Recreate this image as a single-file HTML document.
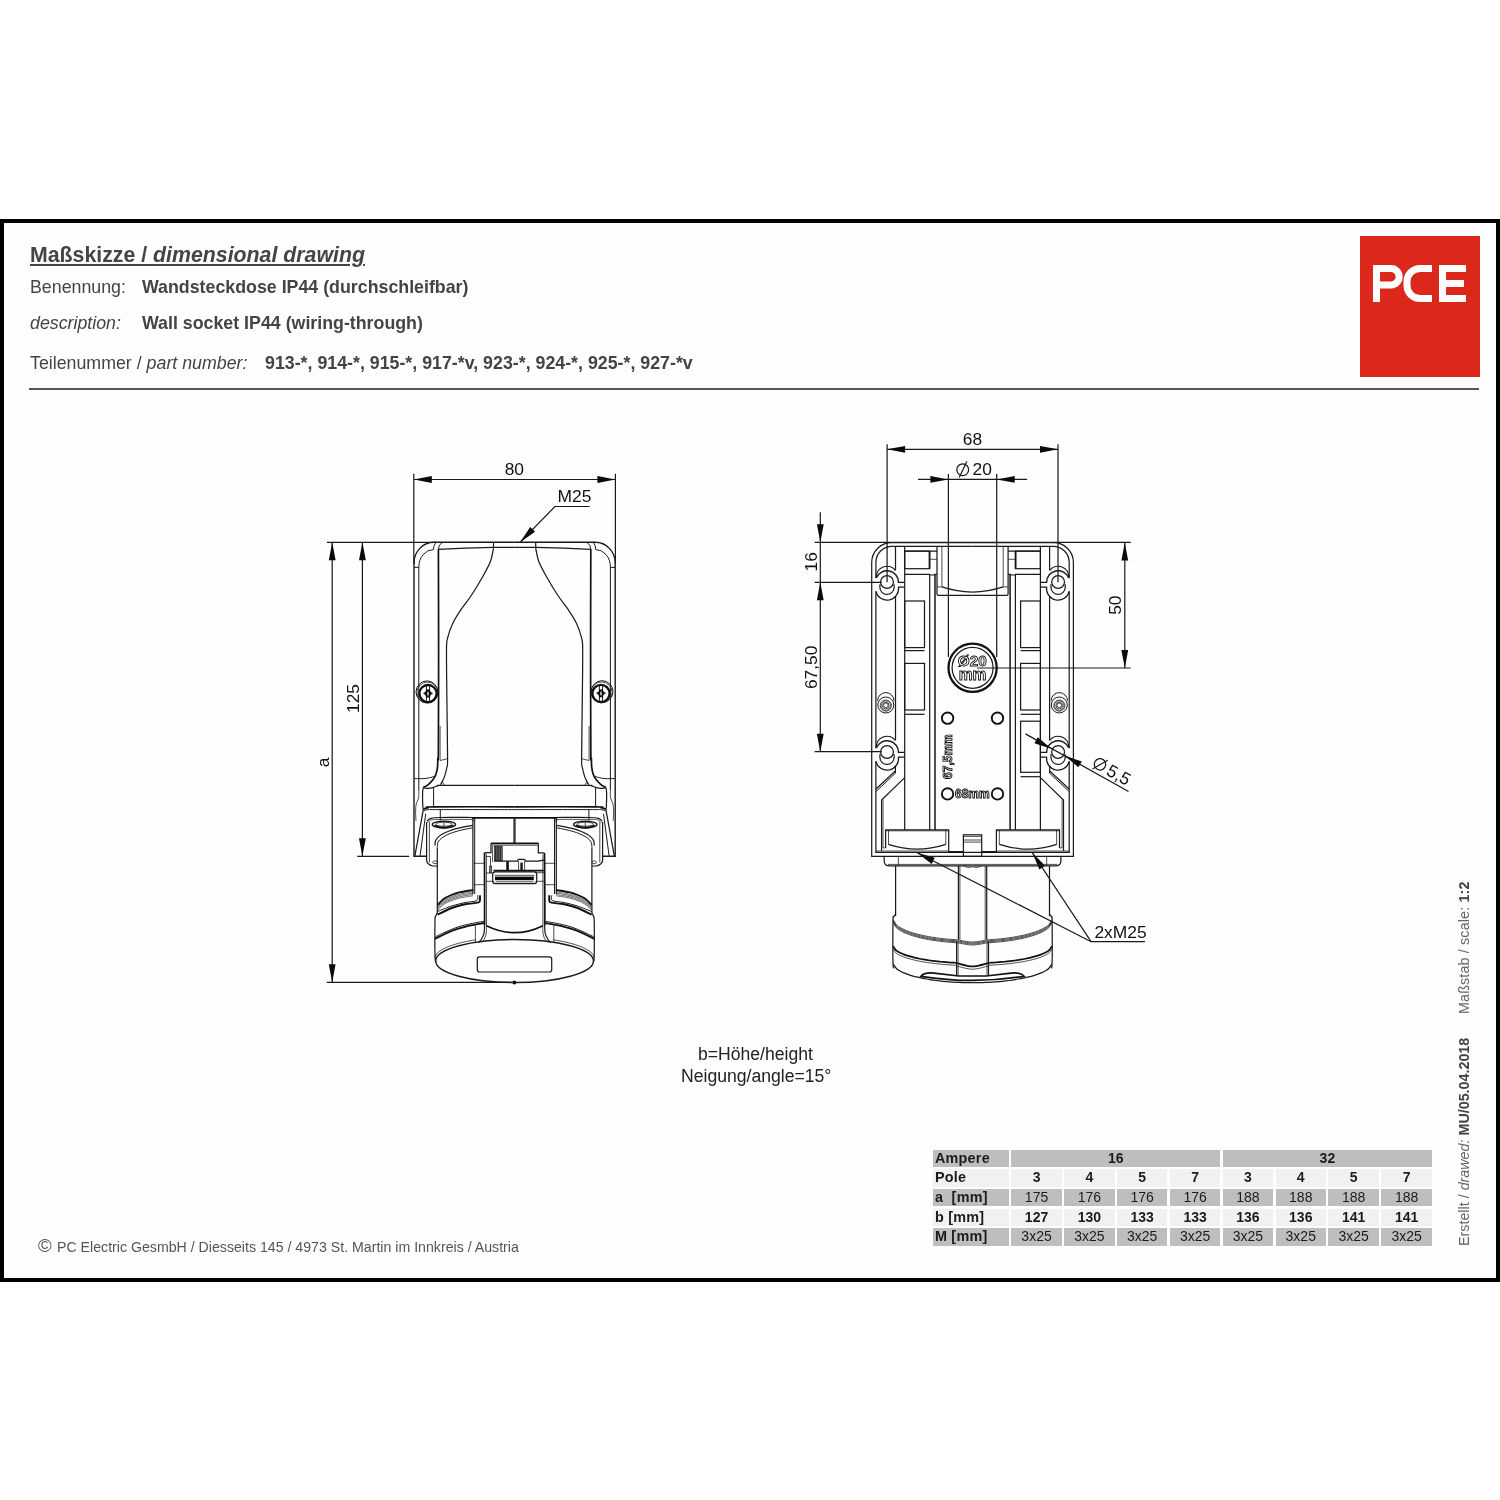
<!DOCTYPE html>
<html>
<head>
<meta charset="utf-8">
<title>Masskizze</title>
<style>
html,body{margin:0;padding:0;background:#fff;}
body{width:1500px;height:1500px;position:relative;overflow:hidden;font-family:"Liberation Sans",sans-serif;color:#444;}
.frame{position:absolute;left:0;top:219px;width:1492px;height:1055px;border:4px solid #000;background:#fefefe;}
.t{position:absolute;white-space:nowrap;line-height:1;will-change:transform;}
.b{font-weight:bold;}
.i{font-style:italic;}
.hr{position:absolute;left:29px;top:388px;width:1450px;height:1.6px;background:#555;}
.logo{position:absolute;left:1360px;top:236px;width:120px;height:141px;background:#dc281a;}
.tb,.tbg{position:absolute;left:0;top:0;}
.tb{will-change:transform;font-size:14px;color:#1c1c1c;}
.tb div,.tbg div{position:absolute;height:17.3px;line-height:16.2px;text-align:center;white-space:nowrap;}
.tbg .g{background:#bebebe;}
.tbg .l{background:#f1f1f1;}
.tb .h{text-align:left;font-weight:bold;font-size:14.4px;letter-spacing:.25px;text-indent:2.2px;}
.side{will-change:transform;position:absolute;white-space:nowrap;transform-origin:0 0;transform:rotate(-90deg);font-size:14.3px;line-height:1;color:#666;}

svg.dw{position:absolute;left:0;top:0;will-change:transform;}
svg.dw .k{fill:none;stroke:#1a1a1a;stroke-width:1.22;}
svg.dw .n{fill:none;stroke:#222;stroke-width:0.8;}
svg.dw .k1{fill:none;stroke:#1a1a1a;stroke-width:1;}
svg.dw .k2{fill:none;stroke:#1a1a1a;stroke-width:1.4;}
svg.dw .k3{fill:none;stroke:#222;stroke-width:1.6;}
svg.dw .n2{fill:none;stroke:#222;stroke-width:0.65;}
svg.dw .h{fill:none;stroke:#111;stroke-width:1.7;}
svg.dw .hh{fill:none;stroke:#111;stroke-width:1.9;}
svg.dw .c2{fill:none;stroke:#111;stroke-width:2.3;}
svg.dw .vv{fill:none;stroke:#333;stroke-width:2.3;}
svg.dw .a{fill:#0a0a0a;stroke:none;}
svg.dw .g{fill:#666;stroke:#222;stroke-width:0.6;}
svg.dw text{font-family:"Liberation Sans",sans-serif;}
svg.dw .tx{font-size:17.4px;fill:#111;}
svg.dw .ot{font-weight:bold;fill:#fff;stroke:#111;stroke-width:0.9;}
</style>
</head>
<body>
<div class="frame"></div>

<div class="t b" style="left:30px;top:245px;font-size:21.3px;text-decoration:underline;text-decoration-thickness:1.8px;text-underline-offset:2.4px;">Maßskizze / <span class="i">dimensional drawing</span></div>
<div class="t" style="left:30px;top:279px;font-size:17.8px;">Benennung:</div>
<div class="t b" style="left:142px;top:279px;font-size:17.8px;">Wandsteckdose IP44 (durchschleifbar)</div>
<div class="t i" style="left:30px;top:315px;font-size:17.8px;">description:</div>
<div class="t b" style="left:142px;top:315px;font-size:17.8px;">Wall socket IP44 (wiring-through)</div>
<div class="t" style="left:30px;top:355px;font-size:17.8px;">Teilenummer / <span class="i">part number:</span></div>
<div class="t b" style="left:265px;top:355px;font-size:17.8px;">913-*, 914-*, 915-*, 917-*v, 923-*, 924-*, 925-*, 927-*v</div>
<div class="hr"></div>

<div class="logo">
<svg width="120" height="141" viewBox="0 0 120 141"><g fill="none" stroke="#fff" stroke-width="7"><path d="M16.5,66 V32.5 H31 a8.2,8.2 0 0 1 0,16.4 H16.5"/><path d="M72,32.5 H60 a13,13 0 0 0 -13,13 v4 a13,13 0 0 0 13,13 H72"/><path d="M106,32.5 H82.5 V62.5 H106 M82.5,47.5 H104"/></g></svg>
</div>

<!--DRAWING-->
<svg class="dw" width="1500" height="1500" viewBox="0 0 1500 1500">
<g id="L">
<path class="k" d="M413.8,473.8L413.8,564"/>
<path class="k" d="M615.4,473.8L615.4,564"/>
<path class="k" d="M413.8,479.5L615.4,479.5"/>
<path class="a" d="M413.8,479.5L431.8,476.1L431.8,482.9Z"/>
<path class="a" d="M615.4,479.5L597.4,482.9L597.4,476.1Z"/>
<text class="tx" x="514.3" y="475" text-anchor="middle">80</text>
<path class="k" d="M589.7,506.5L554.9,506.5L520.1,542.3"/>
<path class="a" d="M520.1,542.3L530.21,527.03L535.09,531.77Z"/>
<text class="tx" x="557.6" y="502.2" text-anchor="start">M25</text>
<path class="k" d="M327,542.3L436,542.3"/>
<path class="k" d="M332.2,542.3L332.2,982.3"/>
<path class="a" d="M332.2,542.3L335.6,560.3L328.8,560.3Z"/>
<path class="a" d="M332.2,982.3L328.8,964.3L335.6,964.3Z"/>
<path class="k" d="M362.4,542.3L362.4,856.3"/>
<path class="a" d="M362.4,542.3L365.8,560.3L359,560.3Z"/>
<path class="a" d="M362.4,856.3L359,838.3L365.8,838.3Z"/>
<path class="k" d="M357.2,856.3L409.2,856.3"/>
<path class="k" d="M326.8,982.3L514.4,982.3"/>
<circle class="a" cx="514.4" cy="982.5" r="1.9"/>
<text class="tx" x="358.8" y="698.5" text-anchor="middle" transform="rotate(-90 358.8 698.5)">125</text>
<text class="tx" x="329" y="762.4" text-anchor="middle" transform="rotate(-90 329 762.4)">a</text>
<path class="k2" d="M514.6,542.3H434A20,20.6 0 0 0 414,563V856.3H426.6"/>
<path class="k1" d="M433.4,549.6A14.6,17.4 0 0 0 418.8,567V790"/>
<path class="k1" d="M414,567.4L418.8,567.4"/>
<path class="k1" d="M435.8,542.5Q433.4,545.6 433.4,549.6"/>
<path class="k1" d="M442.2,542.6Q438.4,544.6 438.4,549.2"/>
<path class="k" d="M438.4,549.3Q465,548 493.5,547.4H514.6"/>
<path class="k" d="M493.5,542.3L493.5,548.2"/>
<path class="k" d="M493.5,548.2C493,550.37 492.28,556.48 490.5,561.2C488.72,565.92 485.95,570.87 482.8,576.5C479.65,582.13 475.18,589.55 471.6,595C468.02,600.45 464.42,604.53 461.3,609.2C458.18,613.87 455.2,618.15 452.9,623C450.6,627.85 448.57,633.7 447.5,638.3C446.43,642.9 446.6,640.32 446.5,650.6C446.4,660.88 446.72,681.98 446.9,700C447.08,718.02 447.63,747.37 447.6,758.7C447.57,770.03 447.2,765.05 446.7,768C446.2,770.95 445.38,774.07 444.6,776.4C443.82,778.73 442.67,780.63 442,782C441.33,783.37 440.83,784.17 440.6,784.6"/>
<path class="h" d="M438.4,549.2C438.43,566 438.6,616.53 438.6,650C438.6,683.47 438.53,731.88 438.4,750C438.27,768.12 437.95,755.85 437.8,758.7C437.65,761.55 437.82,764.47 437.5,767.1C437.18,769.73 436.7,772.33 435.9,774.5C435.1,776.67 434.02,778.38 432.7,780.1C431.38,781.82 429.57,783.55 428,784.8C426.43,786.05 424.08,787.13 423.3,787.6"/>
<path class="n" d="M440.1,726L440.1,760.5"/>
<path class="n" d="M440.1,760.5L447.6,758.7"/>
<path class="n" d="M440.6,784.6L442.5,782L444.4,785.3"/>
<path class="k1" d="M414.6,778.6C416.17,778.6 421.27,778.8 424,778.6C426.73,778.4 429.23,777.83 431,777.4C432.77,776.97 434,776.23 434.6,776"/>
<path class="k" d="M514.6,785.3C502.9,785.3 457.08,785.25 444.4,785.3C431.72,785.35 440.3,785.25 438.5,785.6C436.7,785.95 435.35,786.93 433.6,787.4C431.85,787.87 429.72,788.37 428,788.4C426.28,788.43 424.08,787.73 423.3,787.6"/>
<path class="k" d="M423.3,787.6C423.18,788.42 422.68,789.43 422.6,792.5C422.52,795.57 422.68,803.15 422.8,806C422.92,808.85 423.22,809 423.3,809.6"/>
<path class="k1" d="M433.6,787.4V807.2"/>
<path class="h" d="M423.3,809.2C424.08,808.95 426.13,808.1 428,807.7C429.87,807.3 420.07,806.95 434.5,806.8C448.93,806.65 501.25,806.8 514.6,806.8"/>
<path class="k1" d="M423.8,811C424.5,810.78 425.28,809.93 428,809.7C430.72,809.47 425.67,809.62 440.1,809.6C454.53,809.58 502.18,809.6 514.6,809.6"/>
<path class="k" d="M427,821.2C427.63,820.73 428.62,819.02 430.8,818.4C432.98,817.78 433.1,817.65 440.1,817.5C447.1,817.35 467.35,817.5 472.8,817.5"/>
<path class="n" d="M428,822.6C428.62,822.13 429.53,820.33 431.7,819.8C433.87,819.27 434.28,819.47 441,819.4C447.72,819.33 466.83,819.4 472,819.4"/>
<path class="k1" d="M440.3,809.6L440.3,820.3"/>
<path class="k" d="M426.6,822V860.4Q427.2,864.6 432.7,866H437.3"/>
<path class="n" d="M429.4,822L429.4,862.5"/>
<path class="k" d="M423.3,809.6L414.9,855.8"/>
<path class="k1" d="M425.7,813.8L420.1,855.8"/>
<path class="n" d="M418.8,790C418.77,791.33 419.03,795.67 418.6,798C418.17,800.33 416.7,801.67 416.2,804C415.7,806.33 415.63,809.17 415.6,812C415.57,814.83 415.93,819.5 416,821"/>
<ellipse class="k2" cx="443.9" cy="824.5" rx="11.6" ry="3.3"/>
<ellipse class="n" cx="443.9" cy="824.2" rx="8.3" ry="2"/>
<path class="n" d="M443.9,822.4L443.9,827.6"/>
<path class="hh" d="M434.5,825.6Q443.9,829.8 453.3,825.6"/>
<path class="k" d="M435,845.5C435.08,844.72 435,842.15 435.5,840.8C436,839.45 436.92,838.48 438,837.4C439.08,836.32 440.25,835.33 442,834.3C443.75,833.27 446.17,832.13 448.5,831.2C450.83,830.27 453.42,829.43 456,828.7C458.58,827.97 461.2,827.35 464,826.8C466.8,826.25 471.33,825.63 472.8,825.4"/>
<path class="k1" d="M437.3,847.4C437.38,846.62 437.35,844 437.8,842.7C438.25,841.4 438.98,840.62 440,839.6C441.02,838.58 442.32,837.57 443.9,836.6C445.48,835.63 447.48,834.65 449.5,833.8C451.52,832.95 453.58,832.22 456,831.5C458.42,830.78 461.2,830.12 464,829.5C466.8,828.88 471.33,828.08 472.8,827.8"/>
<path class="k" d="M437.3,847.4L437.3,913"/>
<ellipse class="n" cx="435" cy="862.3" rx="2.3" ry="1.4"/>
<path class="k" d="M472.9,818L472.9,894"/>
<path class="k1" d="M474.7,818L474.7,894"/>
<path class="n" d="M471.7,819.8L473.3,818.2L474.9,819.8L473.3,821.4Z"/>
<path class="n" d="M473.7,863.3L484.3,863.3"/>
<path class="n" d="M473.7,884.7L484,884.7"/>
<path class="hh" d="M437.5,904.9C438.75,903.75 441.53,900.03 445,898C448.47,895.97 453.58,894.03 458.3,892.7C463.02,891.37 470.8,890.45 473.3,890"/>
<path class="n2" d="M437.5,906.4C438.75,905.28 441.53,901.68 445,899.7C448.47,897.72 453.63,895.8 458.3,894.5C462.97,893.2 470.55,892.33 473,891.9"/>
<path class="n2" d="M437.5,907.7C438.75,906.58 441.53,902.98 445,901C448.47,899.02 453.63,897.1 458.3,895.8C462.97,894.5 470.55,893.63 473,893.2"/>
<path class="n2" d="M437.5,909C438.75,907.88 441.53,904.28 445,902.3C448.47,900.32 453.63,898.4 458.3,897.1C462.97,895.8 470.55,894.93 473,894.5"/>
<path class="n2" d="M437.5,910.3C438.75,909.18 441.53,905.58 445,903.6C448.47,901.62 453.63,899.7 458.3,898.4C462.97,897.1 470.55,896.23 473,895.8"/>
<path class="k1" d="M437.6,911.5C439.95,910.58 447.13,907.48 451.7,906C456.27,904.52 460.78,903.52 465,902.6C469.22,901.68 474.93,901.72 477,900.5C479.07,899.28 477.33,896.17 477.4,895.3"/>
<path class="hh" d="M437.5,914.7C439.87,913.58 447.12,909.73 451.7,908C456.28,906.27 460.67,905.18 465,904.3C469.33,903.42 475.22,903.3 477.7,902.7C480.18,902.1 479.53,901.93 479.9,900.7C480.27,899.47 479.9,896.2 479.9,895.3"/>
<path class="k" d="M437.3,913C437.02,913.58 435.98,915.22 435.6,916.5C435.22,917.78 435.1,914.12 435,920.7C434.9,927.28 434.87,949.12 435,956C435.13,962.88 435.67,961 435.8,962"/>
<path class="k1" d="M435.5,936.7C438.2,935.47 446.78,931.25 451.7,929.3C456.62,927.35 459.62,926.35 465,925C470.38,923.65 480.83,921.83 484,921.2"/>
<path class="hh" d="M435,938.8C437.78,937.47 446.7,932.8 451.7,930.8C456.7,928.8 459.62,928.1 465,926.8C470.38,925.5 480.83,923.63 484,923"/>
<path class="n" d="M475.4,925.5L475.4,942.7"/>
<path class="k" d="M484.6,925.7C484.5,926.97 484.52,931.08 484,933.3C483.48,935.52 482.42,937.45 481.5,939C480.58,940.55 479,942 478.5,942.6"/>
<path class="n" d="M486.5,925.7C486.43,927.08 486.52,931.7 486.1,934C485.68,936.3 484.77,938.1 484,939.5C483.23,940.9 481.92,941.92 481.5,942.4"/>
<path class="n" d="M434.7,957.72C434.99,957.13 435.85,955.08 436.42,954.2C436.99,953.31 437.57,952.94 438.14,952.41C438.72,951.89 439.29,951.47 439.86,951.06C440.44,950.65 441.01,950.28 441.58,949.93C442.16,949.58 442.73,949.26 443.3,948.96C443.88,948.65 444.45,948.36 445.02,948.09C445.6,947.81 446.17,947.56 446.75,947.31C447.32,947.06 447.89,946.82 448.47,946.59C449.04,946.36 449.61,946.14 450.19,945.93C450.76,945.72 451.33,945.52 451.91,945.32C452.48,945.12 453.06,944.93 453.63,944.75C454.2,944.57 454.78,944.39 455.35,944.22C455.92,944.05 456.5,943.88 457.07,943.72C457.64,943.56 458.22,943.4 458.79,943.25C459.37,943.1 459.94,942.95 460.51,942.81C461.09,942.67 461.66,942.53 462.23,942.4C462.81,942.26 463.38,942.13 463.95,942C464.53,941.87 465.1,941.75 465.68,941.63C466.25,941.51 466.82,941.39 467.4,941.28C467.97,941.17 468.54,941.06 469.12,940.95C469.69,940.84 470.26,940.74 470.84,940.63C471.41,940.53 471.98,940.43 472.56,940.34C473.13,940.24 473.71,940.15 474.28,940.06C474.85,939.97 475.71,939.84 476,939.79"/>
<g transform="translate(1029.2,0) scale(-1,1)">
<path class="k2" d="M514.6,542.3H434A20,20.6 0 0 0 414,563V856.3H426.6"/>
<path class="k1" d="M433.4,549.6A14.6,17.4 0 0 0 418.8,567V790"/>
<path class="k1" d="M414,567.4L418.8,567.4"/>
<path class="k1" d="M435.8,542.5Q433.4,545.6 433.4,549.6"/>
<path class="k1" d="M442.2,542.6Q438.4,544.6 438.4,549.2"/>
<path class="k" d="M438.4,549.3Q465,548 493.5,547.4H514.6"/>
<path class="k" d="M493.5,542.3L493.5,548.2"/>
<path class="k" d="M493.5,548.2C493,550.37 492.28,556.48 490.5,561.2C488.72,565.92 485.95,570.87 482.8,576.5C479.65,582.13 475.18,589.55 471.6,595C468.02,600.45 464.42,604.53 461.3,609.2C458.18,613.87 455.2,618.15 452.9,623C450.6,627.85 448.57,633.7 447.5,638.3C446.43,642.9 446.6,640.32 446.5,650.6C446.4,660.88 446.72,681.98 446.9,700C447.08,718.02 447.63,747.37 447.6,758.7C447.57,770.03 447.2,765.05 446.7,768C446.2,770.95 445.38,774.07 444.6,776.4C443.82,778.73 442.67,780.63 442,782C441.33,783.37 440.83,784.17 440.6,784.6"/>
<path class="h" d="M438.4,549.2C438.43,566 438.6,616.53 438.6,650C438.6,683.47 438.53,731.88 438.4,750C438.27,768.12 437.95,755.85 437.8,758.7C437.65,761.55 437.82,764.47 437.5,767.1C437.18,769.73 436.7,772.33 435.9,774.5C435.1,776.67 434.02,778.38 432.7,780.1C431.38,781.82 429.57,783.55 428,784.8C426.43,786.05 424.08,787.13 423.3,787.6"/>
<path class="n" d="M440.1,726L440.1,760.5"/>
<path class="n" d="M440.1,760.5L447.6,758.7"/>
<path class="n" d="M440.6,784.6L442.5,782L444.4,785.3"/>
<path class="k1" d="M414.6,778.6C416.17,778.6 421.27,778.8 424,778.6C426.73,778.4 429.23,777.83 431,777.4C432.77,776.97 434,776.23 434.6,776"/>
<path class="k" d="M514.6,785.3C502.9,785.3 457.08,785.25 444.4,785.3C431.72,785.35 440.3,785.25 438.5,785.6C436.7,785.95 435.35,786.93 433.6,787.4C431.85,787.87 429.72,788.37 428,788.4C426.28,788.43 424.08,787.73 423.3,787.6"/>
<path class="k" d="M423.3,787.6C423.18,788.42 422.68,789.43 422.6,792.5C422.52,795.57 422.68,803.15 422.8,806C422.92,808.85 423.22,809 423.3,809.6"/>
<path class="k1" d="M433.6,787.4V807.2"/>
<path class="h" d="M423.3,809.2C424.08,808.95 426.13,808.1 428,807.7C429.87,807.3 420.07,806.95 434.5,806.8C448.93,806.65 501.25,806.8 514.6,806.8"/>
<path class="k1" d="M423.8,811C424.5,810.78 425.28,809.93 428,809.7C430.72,809.47 425.67,809.62 440.1,809.6C454.53,809.58 502.18,809.6 514.6,809.6"/>
<path class="k" d="M427,821.2C427.63,820.73 428.62,819.02 430.8,818.4C432.98,817.78 433.1,817.65 440.1,817.5C447.1,817.35 467.35,817.5 472.8,817.5"/>
<path class="n" d="M428,822.6C428.62,822.13 429.53,820.33 431.7,819.8C433.87,819.27 434.28,819.47 441,819.4C447.72,819.33 466.83,819.4 472,819.4"/>
<path class="k1" d="M440.3,809.6L440.3,820.3"/>
<path class="k" d="M426.6,822V860.4Q427.2,864.6 432.7,866H437.3"/>
<path class="n" d="M429.4,822L429.4,862.5"/>
<path class="k" d="M423.3,809.6L414.9,855.8"/>
<path class="k1" d="M425.7,813.8L420.1,855.8"/>
<path class="n" d="M418.8,790C418.77,791.33 419.03,795.67 418.6,798C418.17,800.33 416.7,801.67 416.2,804C415.7,806.33 415.63,809.17 415.6,812C415.57,814.83 415.93,819.5 416,821"/>
<ellipse class="k2" cx="443.9" cy="824.5" rx="11.6" ry="3.3"/>
<ellipse class="n" cx="443.9" cy="824.2" rx="8.3" ry="2"/>
<path class="n" d="M443.9,822.4L443.9,827.6"/>
<path class="hh" d="M434.5,825.6Q443.9,829.8 453.3,825.6"/>
<path class="k" d="M435,845.5C435.08,844.72 435,842.15 435.5,840.8C436,839.45 436.92,838.48 438,837.4C439.08,836.32 440.25,835.33 442,834.3C443.75,833.27 446.17,832.13 448.5,831.2C450.83,830.27 453.42,829.43 456,828.7C458.58,827.97 461.2,827.35 464,826.8C466.8,826.25 471.33,825.63 472.8,825.4"/>
<path class="k1" d="M437.3,847.4C437.38,846.62 437.35,844 437.8,842.7C438.25,841.4 438.98,840.62 440,839.6C441.02,838.58 442.32,837.57 443.9,836.6C445.48,835.63 447.48,834.65 449.5,833.8C451.52,832.95 453.58,832.22 456,831.5C458.42,830.78 461.2,830.12 464,829.5C466.8,828.88 471.33,828.08 472.8,827.8"/>
<path class="k" d="M437.3,847.4L437.3,913"/>
<ellipse class="n" cx="435" cy="862.3" rx="2.3" ry="1.4"/>
<path class="k" d="M472.9,818L472.9,894"/>
<path class="k1" d="M474.7,818L474.7,894"/>
<path class="n" d="M471.7,819.8L473.3,818.2L474.9,819.8L473.3,821.4Z"/>
<path class="n" d="M473.7,863.3L484.3,863.3"/>
<path class="n" d="M473.7,884.7L484,884.7"/>
<path class="hh" d="M437.5,904.9C438.75,903.75 441.53,900.03 445,898C448.47,895.97 453.58,894.03 458.3,892.7C463.02,891.37 470.8,890.45 473.3,890"/>
<path class="n2" d="M437.5,906.4C438.75,905.28 441.53,901.68 445,899.7C448.47,897.72 453.63,895.8 458.3,894.5C462.97,893.2 470.55,892.33 473,891.9"/>
<path class="n2" d="M437.5,907.7C438.75,906.58 441.53,902.98 445,901C448.47,899.02 453.63,897.1 458.3,895.8C462.97,894.5 470.55,893.63 473,893.2"/>
<path class="n2" d="M437.5,909C438.75,907.88 441.53,904.28 445,902.3C448.47,900.32 453.63,898.4 458.3,897.1C462.97,895.8 470.55,894.93 473,894.5"/>
<path class="n2" d="M437.5,910.3C438.75,909.18 441.53,905.58 445,903.6C448.47,901.62 453.63,899.7 458.3,898.4C462.97,897.1 470.55,896.23 473,895.8"/>
<path class="k1" d="M437.6,911.5C439.95,910.58 447.13,907.48 451.7,906C456.27,904.52 460.78,903.52 465,902.6C469.22,901.68 474.93,901.72 477,900.5C479.07,899.28 477.33,896.17 477.4,895.3"/>
<path class="hh" d="M437.5,914.7C439.87,913.58 447.12,909.73 451.7,908C456.28,906.27 460.67,905.18 465,904.3C469.33,903.42 475.22,903.3 477.7,902.7C480.18,902.1 479.53,901.93 479.9,900.7C480.27,899.47 479.9,896.2 479.9,895.3"/>
<path class="k" d="M437.3,913C437.02,913.58 435.98,915.22 435.6,916.5C435.22,917.78 435.1,914.12 435,920.7C434.9,927.28 434.87,949.12 435,956C435.13,962.88 435.67,961 435.8,962"/>
<path class="k1" d="M435.5,936.7C438.2,935.47 446.78,931.25 451.7,929.3C456.62,927.35 459.62,926.35 465,925C470.38,923.65 480.83,921.83 484,921.2"/>
<path class="hh" d="M435,938.8C437.78,937.47 446.7,932.8 451.7,930.8C456.7,928.8 459.62,928.1 465,926.8C470.38,925.5 480.83,923.63 484,923"/>
<path class="n" d="M475.4,925.5L475.4,942.7"/>
<path class="k" d="M484.6,925.7C484.5,926.97 484.52,931.08 484,933.3C483.48,935.52 482.42,937.45 481.5,939C480.58,940.55 479,942 478.5,942.6"/>
<path class="n" d="M486.5,925.7C486.43,927.08 486.52,931.7 486.1,934C485.68,936.3 484.77,938.1 484,939.5C483.23,940.9 481.92,941.92 481.5,942.4"/>
<path class="n" d="M434.7,957.72C434.99,957.13 435.85,955.08 436.42,954.2C436.99,953.31 437.57,952.94 438.14,952.41C438.72,951.89 439.29,951.47 439.86,951.06C440.44,950.65 441.01,950.28 441.58,949.93C442.16,949.58 442.73,949.26 443.3,948.96C443.88,948.65 444.45,948.36 445.02,948.09C445.6,947.81 446.17,947.56 446.75,947.31C447.32,947.06 447.89,946.82 448.47,946.59C449.04,946.36 449.61,946.14 450.19,945.93C450.76,945.72 451.33,945.52 451.91,945.32C452.48,945.12 453.06,944.93 453.63,944.75C454.2,944.57 454.78,944.39 455.35,944.22C455.92,944.05 456.5,943.88 457.07,943.72C457.64,943.56 458.22,943.4 458.79,943.25C459.37,943.1 459.94,942.95 460.51,942.81C461.09,942.67 461.66,942.53 462.23,942.4C462.81,942.26 463.38,942.13 463.95,942C464.53,941.87 465.1,941.75 465.68,941.63C466.25,941.51 466.82,941.39 467.4,941.28C467.97,941.17 468.54,941.06 469.12,940.95C469.69,940.84 470.26,940.74 470.84,940.63C471.41,940.53 471.98,940.43 472.56,940.34C473.13,940.24 473.71,940.15 474.28,940.06C474.85,939.97 475.71,939.84 476,939.79"/>
</g>
<path class="h" d="M472,817.8H557.2"/>
<path class="vv" d="M514.5,818L514.5,843"/>
<circle class="k1" cx="426.9" cy="691.8" r="10.9"/>
<circle class="n" cx="427.4" cy="692.6" r="10.5"/>
<circle class="c2" cx="428" cy="693.6" r="8.6"/>
<path class="k1" d="M426.4,686L426.4,701.2"/>
<path class="k1" d="M429.6,686L429.6,701.2"/>
<path class="a" d="M423,693.2Q426,692.4 426.5,689.6L429.5,689.6Q430,692.4 433,693.2Q430,694.4 429.4,697.4L426.6,697.4Q426,694.4 423,693.2Z"/>
<path fill="#fff" d="M428,690.8L428.8,693.6L428,696.8L427.2,693.6Z"/>
<circle class="k1" cx="602.1" cy="691.6" r="10.9"/>
<circle class="n" cx="601.6" cy="692.4" r="10.5"/>
<circle class="c2" cx="601" cy="693.4" r="8.6"/>
<path class="k1" d="M599.4,685.8L599.4,701"/>
<path class="k1" d="M602.6,685.8L602.6,701"/>
<path class="a" d="M596,693Q599,692.2 599.5,689.4L602.5,689.4Q603,692.2 606,693Q603,694.2 602.4,697.2L599.6,697.2Q599,694.2 596,693Z"/>
<path fill="#fff" d="M601,690.6L601.8,693.4L601,696.6L600.2,693.4Z"/>
<path class="h" d="M491,843.3H538.3"/>
<path class="n" d="M491.6,845.2H537.8"/>
<path class="k" d="M491,843.3V852.7H484.4"/>
<path class="k" d="M538.3,843.3V852.9H544.4"/>
<path class="h" d="M484.5,852.7C484.52,859.58 484.58,881.83 484.6,894C484.62,906.17 484.6,920.42 484.6,925.7"/>
<path class="h" d="M544.5,852.9C544.55,859.75 544.75,881.87 544.8,894C544.85,906.13 544.8,920.42 544.8,925.7"/>
<path class="n" d="M486.4,854L486.5,925.7"/>
<path class="n" d="M542.9,854.5L542.9,925.7"/>
<rect class="g" x="494.3" y="846" width="8" height="14.8" rx="0"/>
<path class="n" d="M495.5,846L495.5,860.8"/>
<path class="n" d="M497.2,846L497.2,860.8"/>
<path class="n" d="M498.9,846L498.9,860.8"/>
<path class="n" d="M500.6,846L500.6,860.8"/>
<path class="n" d="M492.6,846L492.6,862"/>
<path class="k" d="M494.3,861.2H517.7V860.5Q517.7,859.3 519,859.3H524Q525.3,859.3 525.3,860.5V861.2H538Q541,860.8 544,860.2"/>
<rect class="a" x="520.4" y="862.6" width="2.3" height="7.4" rx="0"/>
<path class="n" d="M518.6,861.2L518.6,870"/>
<path class="n" d="M524.6,861.2L524.6,870"/>
<rect class="a" x="506.3" y="861.3" width="2.5" height="8.7" rx="0"/>
<path class="h" d="M493.5,870.6H543.7"/>
<rect class="g" x="489.6" y="866" width="2.2" height="6.8" rx="0"/>
<path class="n" d="M486,856.5H490.5V866"/>
<path class="n" d="M486,873H492.7"/>
<path class="n" d="M536.7,872.7H544.3"/>
<path class="n" d="M485.7,881.3H493.7"/>
<path class="n" d="M535.6,881.3H544.3"/>
<rect class="k" x="492.7" y="871.8" width="44" height="11.9" rx="2.6"/>
<rect class="a" x="495" y="876.6" width="38.8" height="3.6" rx="0"/>
<path class="n" d="M494.6,875.3L534.6,875.3"/>
<path class="n" d="M495.6,881.8L533.6,881.8"/>
<path class="h" d="M486.5,925.7Q514.6,939.7 542.9,925.7"/>
<ellipse class="k2" cx="514.6" cy="961" rx="78.9" ry="21.5"/>
<rect class="k" x="477.3" y="956.8" width="74.4" height="15.2" rx="2.2"/>
</g>
<g id="R">
<path class="k" d="M887.1,444.3L887.1,582.3"/>
<path class="k" d="M1058,444.3L1058,582.3"/>
<path class="k" d="M887.1,449.3L1058,449.3"/>
<path class="a" d="M887.1,449.3L905.1,445.9L905.1,452.7Z"/>
<path class="a" d="M1058,449.3L1040,452.7L1040,445.9Z"/>
<text class="tx" x="972.4" y="445" text-anchor="middle">68</text>
<path class="k" d="M948.4,474L948.4,657"/>
<path class="k" d="M996.7,474L996.7,657"/>
<path class="k" d="M918,479.4L1027.1,479.4"/>
<path class="a" d="M948.4,479.4L930.4,482.8L930.4,476Z"/>
<path class="a" d="M996.7,479.4L1014.7,476L1014.7,482.8Z"/>
<circle class="k" cx="962.7" cy="469.7" r="5.9"/>
<path class="k" d="M959.2,477.4L966.8,461.4"/>
<text class="tx" x="972.6" y="475" text-anchor="start">20</text>
<path class="k" d="M814.7,542.4L1130.8,542.4"/>
<path class="k" d="M820.3,512.3L820.3,751.7"/>
<path class="a" d="M820.3,542.2L816.9,524.2L823.7,524.2Z"/>
<path class="a" d="M820.3,582.3L823.7,600.3L816.9,600.3Z"/>
<path class="a" d="M820.3,751.7L816.9,733.7L823.7,733.7Z"/>
<path class="k" d="M814.7,582.3L881.8,582.3"/>
<path class="k" d="M814.6,751.7L881.8,751.7"/>
<text class="tx" x="816.7" y="561.7" text-anchor="middle" transform="rotate(-90 816.7 561.7)">16</text>
<text class="tx" x="817" y="667.3" text-anchor="middle" transform="rotate(-90 817 667.3)">67,50</text>
<path class="k" d="M1124.8,542.4L1124.8,668"/>
<path class="a" d="M1124.8,542.4L1128.2,560.4L1121.4,560.4Z"/>
<path class="a" d="M1124.8,668L1121.4,650L1128.2,650Z"/>
<path class="k" d="M977.3,668L1130.8,668"/>
<text class="tx" x="1121.5" y="605.2" text-anchor="middle" transform="rotate(-90 1121.5 605.2)">50</text>
<path class="k" d="M1025.4,733.9L1128.5,791.5"/>
<path class="a" d="M1051.8,749L1034.43,743.19L1037.75,737.25Z"/>
<path class="a" d="M1064.4,755.6L1081.77,761.41L1078.45,767.35Z"/>
<g transform="translate(1088.6,769.2) rotate(29.2)">
<circle class="k" cx="7.6" cy="-9.8" r="5.7"/>
<path class="k" d="M3.2,-2.1L12.4,-17.1"/>
<text class="tx" x="17" y="-3.7" text-anchor="start">5,5</text>
</g>
<path class="k" d="M917.2,852.7L1091.1,941.7L1144.9,941.7"/>
<path class="k" d="M1032.3,852.7L1091.1,941.7"/>
<path class="a" d="M917.2,852.7L934.77,857.87L931.67,863.93Z"/>
<path class="a" d="M1032.3,852.7L1045.06,865.84L1039.39,869.59Z"/>
<text class="tx" x="1094.4" y="937.6" text-anchor="start">2xM25</text>
<path class="k" d="M871.7,856.4V562.5A19.8,19.8 0 0 1 891.5,542.7H1053.6A19.8,19.8 0 0 1 1073.4,562.5V856.4Z"/>
<path class="k" d="M875.4,852.4L1069.7,852.4"/>
<path class="k" d="M972.55,546.3H891.9A16,16 0 0 0 875.9,562.3V578.2"/>
<path class="k" d="M875.9,591.2L875.9,748.2"/>
<path class="k" d="M875.9,761.2L875.9,852.4"/>
<circle class="k" cx="887" cy="582" r="6.4"/>
<path class="k" d="M879.9,584.2V587.4A7.1,7.1 0 0 0 894.1,587.4V584.2"/>
<path class="k" d="M876.3,577.9A10.7,10.7 0 0 1 895.4,570.4"/>
<path class="k2" d="M876.4,577.8A11.5,11.5 0 0 1 898.5,582.4H904.5"/>
<path class="k" d="M904.5,587.2H898.5A11.5,11.5 0 0 1 875.9,591.3"/>
<circle class="k" cx="887" cy="752" r="6.4"/>
<path class="k" d="M879.9,754.2V757.4A7.1,7.1 0 0 0 894.1,757.4V754.2"/>
<path class="k" d="M876.3,747.9A10.7,10.7 0 0 1 895.4,740.4"/>
<path class="k2" d="M876.4,747.8A11.5,11.5 0 0 1 898.5,752.4H904.5"/>
<path class="k" d="M904.5,757.2H898.5A11.5,11.5 0 0 1 875.9,761.3"/>
<path class="k1" d="M877.6,700.8A8.2,8.2 0 0 1 894,700.8"/>
<circle class="k1" cx="885.8" cy="705" r="8"/>
<circle class="n" cx="885.8" cy="705.6" r="5.6"/>
<circle class="n" cx="885.8" cy="705.6" r="4.7"/>
<circle class="n" cx="885.8" cy="705.6" r="3.3"/>
<circle class="n" cx="885.8" cy="705.3" r="2.3"/>
<path class="k" d="M895.5,546.3L895.5,570.3"/>
<path class="k" d="M895.5,596L895.5,740.3"/>
<path class="k" d="M895.4,765.5L895.4,773.2"/>
<path class="k" d="M895.4,771L876,789"/>
<path class="k1" d="M895.4,773.2L876,791.5"/>
<path class="k" d="M904.7,546.3L904.7,830"/>
<path class="k" d="M904.7,777.6L881.6,800L881.6,851"/>
<path class="n" d="M883,799.5L883,847.8L885.6,848"/>
<path class="k" d="M929.7,575L929.7,830"/>
<path class="k3" d="M935,575L935,830"/>
<path class="k" d="M904.7,551.2H937"/>
<rect class="k" x="904.7" y="551.2" width="24.9" height="17.5" rx="0"/>
<path class="h" d="M929.5,551.2L929.5,568.7"/>
<path class="n" d="M930.2,559.3H937"/>
<path class="k" d="M904.7,574.3H929.7L930.2,575H934L934.6,574.3H937"/>
<path class="k" d="M937,546.3V594Q937,595.3 938.4,595.3H972.55"/>
<path class="n" d="M941.9,546.3V586.9"/>
<path class="n" d="M937,586.9H941.9"/>
<path class="k" d="M941.9,586.9Q957,591.9 972.55,592.1"/>
<rect class="k" x="904.7" y="601" width="19.8" height="46.6" rx="0"/>
<path class="k" d="M904.7,650.6L924.5,650.6"/>
<rect class="k" x="904.7" y="663.4" width="19.8" height="46.6" rx="0"/>
<path class="k" d="M904.7,714.3L924.5,714.3"/>
<circle class="hh" cx="947.6" cy="718.2" r="5.7"/>
<circle class="hh" cx="947.6" cy="793.9" r="5.7"/>
<path class="k" d="M885.6,848V829.8H948.7V852.4"/>
<path class="n" d="M885.6,830.8H948.7"/>
<path class="n" d="M888.5,830L888.5,844.5"/>
<path class="n" d="M945.8,830L945.8,844.5"/>
<path class="k" d="M888.4,844.4Q917,853.8 945.8,844.4"/>
<path class="n" d="M875.9,851H948.7"/>
<path class="hh" d="M948.7,852H963.4"/>
<path class="k" d="M884.2,856.4V861Q884.2,865.9 890,865.9H972.55"/>
<path class="n" d="M888,864.4H972.55"/>
<path class="n" d="M898.4,856.4L898.4,865.9"/>
<path class="k" d="M895.6,865.9L895.6,916"/>
<path class="k" d="M895.6,914C895.27,914.5 894.03,915.83 893.6,917C893.17,918.17 893.1,913.33 893,921C892.9,928.67 892.83,955.17 893,963C893.17,970.83 893.83,967.17 894,968"/>
<path class="k" d="M958.4,866L958.4,939.5"/>
<path class="n" d="M959.9,866L959.9,940"/>
<path class="k" d="M956.6,941L956.6,975.5"/>
<path class="n" d="M958.1,941.5L958.1,976"/>
<path class="n" d="M893.2,919.37C893.65,920.18 895.01,923.07 895.92,924.25C896.82,925.44 897.73,925.84 898.63,926.49C899.54,927.14 900.44,927.65 901.35,928.16C902.26,928.67 903.16,929.11 904.07,929.53C904.97,929.95 905.88,930.34 906.78,930.7C907.69,931.07 908.59,931.41 909.5,931.73C910.41,932.05 911.31,932.35 912.22,932.64C913.12,932.93 914.03,933.2 914.93,933.46C915.84,933.72 916.74,933.97 917.65,934.2C918.56,934.44 919.46,934.66 920.37,934.88C921.27,935.1 922.18,935.3 923.08,935.5C923.99,935.69 924.89,935.88 925.8,936.06C926.71,936.24 927.61,936.41 928.52,936.57C929.42,936.74 930.33,936.89 931.23,937.05C932.14,937.2 933.04,937.34 933.95,937.48C934.86,937.61 935.76,937.74 936.67,937.87C937.57,937.99 938.48,938.11 939.38,938.23C940.29,938.34 941.19,938.45 942.1,938.55C943.01,938.65 943.91,938.75 944.82,938.84C945.72,938.93 946.63,939.02 947.53,939.1C948.44,939.18 949.34,939.26 950.25,939.33C951.16,939.4 952.06,939.47 952.97,939.53C953.87,939.6 954.78,939.65 955.68,939.71C956.59,939.76 957.95,939.83 958.4,939.85"/>
<path class="n" d="M893.2,920.37C893.65,921.18 895.01,924.07 895.92,925.25C896.82,926.44 897.73,926.84 898.63,927.49C899.54,928.14 900.44,928.65 901.35,929.16C902.26,929.67 903.16,930.11 904.07,930.53C904.97,930.95 905.88,931.34 906.78,931.7C907.69,932.07 908.59,932.41 909.5,932.73C910.41,933.05 911.31,933.35 912.22,933.64C913.12,933.93 914.03,934.2 914.93,934.46C915.84,934.72 916.74,934.97 917.65,935.2C918.56,935.44 919.46,935.66 920.37,935.88C921.27,936.1 922.18,936.3 923.08,936.5C923.99,936.69 924.89,936.88 925.8,937.06C926.71,937.24 927.61,937.41 928.52,937.57C929.42,937.74 930.33,937.89 931.23,938.05C932.14,938.2 933.04,938.34 933.95,938.48C934.86,938.61 935.76,938.74 936.67,938.87C937.57,938.99 938.48,939.11 939.38,939.23C940.29,939.34 941.19,939.45 942.1,939.55C943.01,939.65 943.91,939.75 944.82,939.84C945.72,939.93 946.63,940.02 947.53,940.1C948.44,940.18 949.34,940.26 950.25,940.33C951.16,940.4 952.06,940.47 952.97,940.53C953.87,940.6 954.78,940.65 955.68,940.71C956.59,940.76 957.95,940.83 958.4,940.85"/>
<path class="n" d="M893.2,921.37C893.65,922.18 895.01,925.07 895.92,926.25C896.82,927.44 897.73,927.84 898.63,928.49C899.54,929.14 900.44,929.65 901.35,930.16C902.26,930.67 903.16,931.11 904.07,931.53C904.97,931.95 905.88,932.34 906.78,932.7C907.69,933.07 908.59,933.41 909.5,933.73C910.41,934.05 911.31,934.35 912.22,934.64C913.12,934.93 914.03,935.2 914.93,935.46C915.84,935.72 916.74,935.97 917.65,936.2C918.56,936.44 919.46,936.66 920.37,936.88C921.27,937.1 922.18,937.3 923.08,937.5C923.99,937.69 924.89,937.88 925.8,938.06C926.71,938.24 927.61,938.41 928.52,938.57C929.42,938.74 930.33,938.89 931.23,939.05C932.14,939.2 933.04,939.34 933.95,939.48C934.86,939.61 935.76,939.74 936.67,939.87C937.57,939.99 938.48,940.11 939.38,940.23C940.29,940.34 941.19,940.45 942.1,940.55C943.01,940.65 943.91,940.75 944.82,940.84C945.72,940.93 946.63,941.02 947.53,941.1C948.44,941.18 949.34,941.26 950.25,941.33C951.16,941.4 952.06,941.47 952.97,941.53C953.87,941.6 954.78,941.65 955.68,941.71C956.59,941.76 957.95,941.83 958.4,941.85"/>
<path class="n" d="M893.2,922.37C893.65,923.18 895.01,926.07 895.92,927.25C896.82,928.44 897.73,928.84 898.63,929.49C899.54,930.14 900.44,930.65 901.35,931.16C902.26,931.67 903.16,932.11 904.07,932.53C904.97,932.95 905.88,933.34 906.78,933.7C907.69,934.07 908.59,934.41 909.5,934.73C910.41,935.05 911.31,935.35 912.22,935.64C913.12,935.93 914.03,936.2 914.93,936.46C915.84,936.72 916.74,936.97 917.65,937.2C918.56,937.44 919.46,937.66 920.37,937.88C921.27,938.1 922.18,938.3 923.08,938.5C923.99,938.69 924.89,938.88 925.8,939.06C926.71,939.24 927.61,939.41 928.52,939.57C929.42,939.74 930.33,939.89 931.23,940.05C932.14,940.2 933.04,940.34 933.95,940.48C934.86,940.61 935.76,940.74 936.67,940.87C937.57,940.99 938.48,941.11 939.38,941.23C940.29,941.34 941.19,941.45 942.1,941.55C943.01,941.65 943.91,941.75 944.82,941.84C945.72,941.93 946.63,942.02 947.53,942.1C948.44,942.18 949.34,942.26 950.25,942.33C951.16,942.4 952.06,942.47 952.97,942.53C953.87,942.6 954.78,942.65 955.68,942.71C956.59,942.76 957.95,942.83 958.4,942.85"/>
<path class="h" d="M893.2,946.22C893.64,946.88 894.96,949.19 895.84,950.14C896.72,951.1 897.6,951.42 898.48,951.94C899.36,952.47 900.24,952.88 901.12,953.29C902.01,953.7 902.89,954.05 903.77,954.39C904.65,954.73 905.53,955.04 906.41,955.34C907.29,955.63 908.17,955.9 909.05,956.17C909.93,956.43 910.81,956.67 911.69,956.9C912.57,957.14 913.45,957.36 914.33,957.57C915.21,957.78 916.09,957.98 916.98,958.17C917.86,958.36 918.74,958.54 919.62,958.72C920.5,958.89 921.38,959.06 922.26,959.22C923.14,959.38 924.02,959.53 924.9,959.68C925.78,959.82 926.66,959.96 927.54,960.1C928.42,960.23 929.3,960.36 930.18,960.49C931.06,960.61 931.94,960.73 932.83,960.84C933.71,960.95 934.59,961.06 935.47,961.16C936.35,961.27 937.23,961.36 938.11,961.46C938.99,961.55 939.87,961.64 940.75,961.73C941.63,961.81 942.51,961.89 943.39,961.97C944.27,962.05 945.15,962.12 946.03,962.19C946.91,962.26 947.79,962.32 948.68,962.39C949.56,962.45 950.44,962.5 951.32,962.56C952.2,962.61 953.08,962.66 953.96,962.71C954.84,962.76 956.16,962.82 956.6,962.84"/>
<path class="n" d="M893.2,949.01C893.64,949.65 894.96,951.91 895.84,952.84C896.72,953.77 897.6,954.09 898.48,954.6C899.36,955.11 900.24,955.51 901.12,955.91C902.01,956.31 902.89,956.66 903.77,956.99C904.65,957.33 905.53,957.63 906.41,957.92C907.29,958.2 908.17,958.47 909.05,958.73C909.93,958.98 910.81,959.22 911.69,959.45C912.57,959.68 913.45,959.89 914.33,960.1C915.21,960.3 916.09,960.5 916.98,960.68C917.86,960.87 918.74,961.05 919.62,961.22C920.5,961.39 921.38,961.55 922.26,961.71C923.14,961.87 924.02,962.02 924.9,962.16C925.78,962.3 926.66,962.44 927.54,962.57C928.42,962.7 929.3,962.83 930.18,962.95C931.06,963.07 931.94,963.18 932.83,963.29C933.71,963.4 934.59,963.51 935.47,963.61C936.35,963.71 937.23,963.81 938.11,963.9C938.99,963.99 939.87,964.08 940.75,964.16C941.63,964.24 942.51,964.32 943.39,964.4C944.27,964.47 945.15,964.54 946.03,964.61C946.91,964.68 947.79,964.74 948.68,964.8C949.56,964.86 950.44,964.92 951.32,964.97C952.2,965.03 953.08,965.08 953.96,965.12C954.84,965.17 956.16,965.23 956.6,965.25"/>
<path class="k" d="M893.3,964.21C893.85,964.97 895.5,967.62 896.6,968.75C897.7,969.87 898.8,970.31 899.9,970.95C901,971.59 902.11,972.1 903.21,972.6C904.31,973.09 905.41,973.52 906.51,973.94C907.61,974.35 908.71,974.72 909.81,975.07C910.91,975.43 912.01,975.75 913.11,976.06C914.21,976.37 915.31,976.66 916.41,976.93C917.52,977.21 918.62,977.46 919.72,977.71C920.82,977.95 921.92,978.18 923.02,978.4C924.12,978.62 925.22,978.82 926.32,979.02C927.42,979.21 928.52,979.4 929.62,979.57C930.72,979.75 931.82,979.91 932.92,980.07C934.03,980.23 935.13,980.38 936.23,980.52C937.33,980.66 938.43,980.79 939.53,980.92C940.63,981.04 941.73,981.16 942.83,981.27C943.93,981.38 945.03,981.48 946.13,981.58C947.23,981.67 948.33,981.76 949.44,981.85C950.54,981.93 951.64,982.01 952.74,982.08C953.84,982.15 954.94,982.21 956.04,982.27C957.14,982.33 958.24,982.38 959.34,982.43C960.44,982.47 961.54,982.51 962.64,982.55C963.74,982.58 964.85,982.61 965.95,982.63C967.05,982.65 968.15,982.67 969.25,982.68C970.35,982.69 972,982.7 972.55,982.7"/>
<g transform="translate(1945.1,0) scale(-1,1)">
<path class="k" d="M972.55,546.3H891.9A16,16 0 0 0 875.9,562.3V578.2"/>
<path class="k" d="M875.9,591.2L875.9,748.2"/>
<path class="k" d="M875.9,761.2L875.9,852.4"/>
<circle class="k" cx="887" cy="582" r="6.4"/>
<path class="k" d="M879.9,584.2V587.4A7.1,7.1 0 0 0 894.1,587.4V584.2"/>
<path class="k" d="M876.3,577.9A10.7,10.7 0 0 1 895.4,570.4"/>
<path class="k2" d="M876.4,577.8A11.5,11.5 0 0 1 898.5,582.4H904.5"/>
<path class="k" d="M904.5,587.2H898.5A11.5,11.5 0 0 1 875.9,591.3"/>
<circle class="k" cx="887" cy="752" r="6.4"/>
<path class="k" d="M879.9,754.2V757.4A7.1,7.1 0 0 0 894.1,757.4V754.2"/>
<path class="k" d="M876.3,747.9A10.7,10.7 0 0 1 895.4,740.4"/>
<path class="k2" d="M876.4,747.8A11.5,11.5 0 0 1 898.5,752.4H904.5"/>
<path class="k" d="M904.5,757.2H898.5A11.5,11.5 0 0 1 875.9,761.3"/>
<path class="k1" d="M877.6,700.8A8.2,8.2 0 0 1 894,700.8"/>
<circle class="k1" cx="885.8" cy="705" r="8"/>
<circle class="n" cx="885.8" cy="705.6" r="5.6"/>
<circle class="n" cx="885.8" cy="705.6" r="4.7"/>
<circle class="n" cx="885.8" cy="705.6" r="3.3"/>
<circle class="n" cx="885.8" cy="705.3" r="2.3"/>
<path class="k" d="M895.5,546.3L895.5,570.3"/>
<path class="k" d="M895.5,596L895.5,740.3"/>
<path class="k" d="M895.4,765.5L895.4,773.2"/>
<path class="k" d="M895.4,771L876,789"/>
<path class="k1" d="M895.4,773.2L876,791.5"/>
<path class="k" d="M904.7,546.3L904.7,830"/>
<path class="k" d="M904.7,777.6L881.6,800L881.6,851"/>
<path class="n" d="M883,799.5L883,847.8L885.6,848"/>
<path class="k" d="M929.7,575L929.7,830"/>
<path class="k3" d="M935,575L935,830"/>
<path class="k" d="M904.7,551.2H937"/>
<rect class="k" x="904.7" y="551.2" width="24.9" height="17.5" rx="0"/>
<path class="h" d="M929.5,551.2L929.5,568.7"/>
<path class="n" d="M930.2,559.3H937"/>
<path class="k" d="M904.7,574.3H929.7L930.2,575H934L934.6,574.3H937"/>
<path class="k" d="M937,546.3V594Q937,595.3 938.4,595.3H972.55"/>
<path class="n" d="M941.9,546.3V586.9"/>
<path class="n" d="M937,586.9H941.9"/>
<path class="k" d="M941.9,586.9Q957,591.9 972.55,592.1"/>
<rect class="k" x="904.7" y="601" width="19.8" height="46.6" rx="0"/>
<path class="k" d="M904.7,650.6L924.5,650.6"/>
<rect class="k" x="904.7" y="663.4" width="19.8" height="46.6" rx="0"/>
<path class="k" d="M904.7,714.3L924.5,714.3"/>
<circle class="hh" cx="947.6" cy="718.2" r="5.7"/>
<circle class="hh" cx="947.6" cy="793.9" r="5.7"/>
<path class="k" d="M885.6,848V829.8H948.7V852.4"/>
<path class="n" d="M885.6,830.8H948.7"/>
<path class="n" d="M888.5,830L888.5,844.5"/>
<path class="n" d="M945.8,830L945.8,844.5"/>
<path class="k" d="M888.4,844.4Q917,853.8 945.8,844.4"/>
<path class="n" d="M875.9,851H948.7"/>
<path class="hh" d="M948.7,852H963.4"/>
<path class="k" d="M884.2,856.4V861Q884.2,865.9 890,865.9H972.55"/>
<path class="n" d="M888,864.4H972.55"/>
<path class="n" d="M898.4,856.4L898.4,865.9"/>
<path class="k" d="M895.6,865.9L895.6,916"/>
<path class="k" d="M895.6,914C895.27,914.5 894.03,915.83 893.6,917C893.17,918.17 893.1,913.33 893,921C892.9,928.67 892.83,955.17 893,963C893.17,970.83 893.83,967.17 894,968"/>
<path class="k" d="M958.4,866L958.4,939.5"/>
<path class="n" d="M959.9,866L959.9,940"/>
<path class="k" d="M956.6,941L956.6,975.5"/>
<path class="n" d="M958.1,941.5L958.1,976"/>
<path class="n" d="M893.2,919.37C893.65,920.18 895.01,923.07 895.92,924.25C896.82,925.44 897.73,925.84 898.63,926.49C899.54,927.14 900.44,927.65 901.35,928.16C902.26,928.67 903.16,929.11 904.07,929.53C904.97,929.95 905.88,930.34 906.78,930.7C907.69,931.07 908.59,931.41 909.5,931.73C910.41,932.05 911.31,932.35 912.22,932.64C913.12,932.93 914.03,933.2 914.93,933.46C915.84,933.72 916.74,933.97 917.65,934.2C918.56,934.44 919.46,934.66 920.37,934.88C921.27,935.1 922.18,935.3 923.08,935.5C923.99,935.69 924.89,935.88 925.8,936.06C926.71,936.24 927.61,936.41 928.52,936.57C929.42,936.74 930.33,936.89 931.23,937.05C932.14,937.2 933.04,937.34 933.95,937.48C934.86,937.61 935.76,937.74 936.67,937.87C937.57,937.99 938.48,938.11 939.38,938.23C940.29,938.34 941.19,938.45 942.1,938.55C943.01,938.65 943.91,938.75 944.82,938.84C945.72,938.93 946.63,939.02 947.53,939.1C948.44,939.18 949.34,939.26 950.25,939.33C951.16,939.4 952.06,939.47 952.97,939.53C953.87,939.6 954.78,939.65 955.68,939.71C956.59,939.76 957.95,939.83 958.4,939.85"/>
<path class="n" d="M893.2,920.37C893.65,921.18 895.01,924.07 895.92,925.25C896.82,926.44 897.73,926.84 898.63,927.49C899.54,928.14 900.44,928.65 901.35,929.16C902.26,929.67 903.16,930.11 904.07,930.53C904.97,930.95 905.88,931.34 906.78,931.7C907.69,932.07 908.59,932.41 909.5,932.73C910.41,933.05 911.31,933.35 912.22,933.64C913.12,933.93 914.03,934.2 914.93,934.46C915.84,934.72 916.74,934.97 917.65,935.2C918.56,935.44 919.46,935.66 920.37,935.88C921.27,936.1 922.18,936.3 923.08,936.5C923.99,936.69 924.89,936.88 925.8,937.06C926.71,937.24 927.61,937.41 928.52,937.57C929.42,937.74 930.33,937.89 931.23,938.05C932.14,938.2 933.04,938.34 933.95,938.48C934.86,938.61 935.76,938.74 936.67,938.87C937.57,938.99 938.48,939.11 939.38,939.23C940.29,939.34 941.19,939.45 942.1,939.55C943.01,939.65 943.91,939.75 944.82,939.84C945.72,939.93 946.63,940.02 947.53,940.1C948.44,940.18 949.34,940.26 950.25,940.33C951.16,940.4 952.06,940.47 952.97,940.53C953.87,940.6 954.78,940.65 955.68,940.71C956.59,940.76 957.95,940.83 958.4,940.85"/>
<path class="n" d="M893.2,921.37C893.65,922.18 895.01,925.07 895.92,926.25C896.82,927.44 897.73,927.84 898.63,928.49C899.54,929.14 900.44,929.65 901.35,930.16C902.26,930.67 903.16,931.11 904.07,931.53C904.97,931.95 905.88,932.34 906.78,932.7C907.69,933.07 908.59,933.41 909.5,933.73C910.41,934.05 911.31,934.35 912.22,934.64C913.12,934.93 914.03,935.2 914.93,935.46C915.84,935.72 916.74,935.97 917.65,936.2C918.56,936.44 919.46,936.66 920.37,936.88C921.27,937.1 922.18,937.3 923.08,937.5C923.99,937.69 924.89,937.88 925.8,938.06C926.71,938.24 927.61,938.41 928.52,938.57C929.42,938.74 930.33,938.89 931.23,939.05C932.14,939.2 933.04,939.34 933.95,939.48C934.86,939.61 935.76,939.74 936.67,939.87C937.57,939.99 938.48,940.11 939.38,940.23C940.29,940.34 941.19,940.45 942.1,940.55C943.01,940.65 943.91,940.75 944.82,940.84C945.72,940.93 946.63,941.02 947.53,941.1C948.44,941.18 949.34,941.26 950.25,941.33C951.16,941.4 952.06,941.47 952.97,941.53C953.87,941.6 954.78,941.65 955.68,941.71C956.59,941.76 957.95,941.83 958.4,941.85"/>
<path class="n" d="M893.2,922.37C893.65,923.18 895.01,926.07 895.92,927.25C896.82,928.44 897.73,928.84 898.63,929.49C899.54,930.14 900.44,930.65 901.35,931.16C902.26,931.67 903.16,932.11 904.07,932.53C904.97,932.95 905.88,933.34 906.78,933.7C907.69,934.07 908.59,934.41 909.5,934.73C910.41,935.05 911.31,935.35 912.22,935.64C913.12,935.93 914.03,936.2 914.93,936.46C915.84,936.72 916.74,936.97 917.65,937.2C918.56,937.44 919.46,937.66 920.37,937.88C921.27,938.1 922.18,938.3 923.08,938.5C923.99,938.69 924.89,938.88 925.8,939.06C926.71,939.24 927.61,939.41 928.52,939.57C929.42,939.74 930.33,939.89 931.23,940.05C932.14,940.2 933.04,940.34 933.95,940.48C934.86,940.61 935.76,940.74 936.67,940.87C937.57,940.99 938.48,941.11 939.38,941.23C940.29,941.34 941.19,941.45 942.1,941.55C943.01,941.65 943.91,941.75 944.82,941.84C945.72,941.93 946.63,942.02 947.53,942.1C948.44,942.18 949.34,942.26 950.25,942.33C951.16,942.4 952.06,942.47 952.97,942.53C953.87,942.6 954.78,942.65 955.68,942.71C956.59,942.76 957.95,942.83 958.4,942.85"/>
<path class="h" d="M893.2,946.22C893.64,946.88 894.96,949.19 895.84,950.14C896.72,951.1 897.6,951.42 898.48,951.94C899.36,952.47 900.24,952.88 901.12,953.29C902.01,953.7 902.89,954.05 903.77,954.39C904.65,954.73 905.53,955.04 906.41,955.34C907.29,955.63 908.17,955.9 909.05,956.17C909.93,956.43 910.81,956.67 911.69,956.9C912.57,957.14 913.45,957.36 914.33,957.57C915.21,957.78 916.09,957.98 916.98,958.17C917.86,958.36 918.74,958.54 919.62,958.72C920.5,958.89 921.38,959.06 922.26,959.22C923.14,959.38 924.02,959.53 924.9,959.68C925.78,959.82 926.66,959.96 927.54,960.1C928.42,960.23 929.3,960.36 930.18,960.49C931.06,960.61 931.94,960.73 932.83,960.84C933.71,960.95 934.59,961.06 935.47,961.16C936.35,961.27 937.23,961.36 938.11,961.46C938.99,961.55 939.87,961.64 940.75,961.73C941.63,961.81 942.51,961.89 943.39,961.97C944.27,962.05 945.15,962.12 946.03,962.19C946.91,962.26 947.79,962.32 948.68,962.39C949.56,962.45 950.44,962.5 951.32,962.56C952.2,962.61 953.08,962.66 953.96,962.71C954.84,962.76 956.16,962.82 956.6,962.84"/>
<path class="n" d="M893.2,949.01C893.64,949.65 894.96,951.91 895.84,952.84C896.72,953.77 897.6,954.09 898.48,954.6C899.36,955.11 900.24,955.51 901.12,955.91C902.01,956.31 902.89,956.66 903.77,956.99C904.65,957.33 905.53,957.63 906.41,957.92C907.29,958.2 908.17,958.47 909.05,958.73C909.93,958.98 910.81,959.22 911.69,959.45C912.57,959.68 913.45,959.89 914.33,960.1C915.21,960.3 916.09,960.5 916.98,960.68C917.86,960.87 918.74,961.05 919.62,961.22C920.5,961.39 921.38,961.55 922.26,961.71C923.14,961.87 924.02,962.02 924.9,962.16C925.78,962.3 926.66,962.44 927.54,962.57C928.42,962.7 929.3,962.83 930.18,962.95C931.06,963.07 931.94,963.18 932.83,963.29C933.71,963.4 934.59,963.51 935.47,963.61C936.35,963.71 937.23,963.81 938.11,963.9C938.99,963.99 939.87,964.08 940.75,964.16C941.63,964.24 942.51,964.32 943.39,964.4C944.27,964.47 945.15,964.54 946.03,964.61C946.91,964.68 947.79,964.74 948.68,964.8C949.56,964.86 950.44,964.92 951.32,964.97C952.2,965.03 953.08,965.08 953.96,965.12C954.84,965.17 956.16,965.23 956.6,965.25"/>
<path class="k" d="M893.3,964.21C893.85,964.97 895.5,967.62 896.6,968.75C897.7,969.87 898.8,970.31 899.9,970.95C901,971.59 902.11,972.1 903.21,972.6C904.31,973.09 905.41,973.52 906.51,973.94C907.61,974.35 908.71,974.72 909.81,975.07C910.91,975.43 912.01,975.75 913.11,976.06C914.21,976.37 915.31,976.66 916.41,976.93C917.52,977.21 918.62,977.46 919.72,977.71C920.82,977.95 921.92,978.18 923.02,978.4C924.12,978.62 925.22,978.82 926.32,979.02C927.42,979.21 928.52,979.4 929.62,979.57C930.72,979.75 931.82,979.91 932.92,980.07C934.03,980.23 935.13,980.38 936.23,980.52C937.33,980.66 938.43,980.79 939.53,980.92C940.63,981.04 941.73,981.16 942.83,981.27C943.93,981.38 945.03,981.48 946.13,981.58C947.23,981.67 948.33,981.76 949.44,981.85C950.54,981.93 951.64,982.01 952.74,982.08C953.84,982.15 954.94,982.21 956.04,982.27C957.14,982.33 958.24,982.38 959.34,982.43C960.44,982.47 961.54,982.51 962.64,982.55C963.74,982.58 964.85,982.61 965.95,982.63C967.05,982.65 968.15,982.67 969.25,982.68C970.35,982.69 972,982.7 972.55,982.7"/>
</g>
<rect class="k" x="1020.6" y="721.2" width="19.8" height="51.1" rx="0"/>
<path class="k" d="M1020.6,776.7L1040.4,776.7"/>
<path class="n" d="M958.4,940C960.75,940.33 967.78,942 972.5,942C977.22,942 984.33,940.33 986.7,940"/>
<path class="n" d="M958.4,941C960.75,941.33 967.78,943 972.5,943C977.22,943 984.33,941.33 986.7,941"/>
<path class="n" d="M958.4,942C960.75,942.33 967.78,944 972.5,944C977.22,944 984.33,942.33 986.7,942"/>
<path class="n" d="M958.4,943C960.75,943.33 967.78,945 972.5,945C977.22,945 984.33,943.33 986.7,943"/>
<path class="h" d="M956.6,963C959.25,963.57 967.18,966.4 972.5,966.4C977.82,966.4 985.83,963.57 988.5,963"/>
<path class="n" d="M956.6,966C959.25,966.53 967.18,969.2 972.5,969.2C977.82,969.2 985.83,966.53 988.5,966"/>
<rect class="k" x="963.4" y="834.8" width="18.3" height="21.6" rx="0"/>
<path class="n" d="M963.4,836.4L981.7,836.4"/>
<path class="n" d="M963.4,840L981.7,840"/>
<path class="n" d="M963.4,842.1L981.7,842.1"/>
<path class="n" d="M963.5,866Q968,868.6 972.5,866.8Q977,868.6 981.6,866"/>
<path class="h" d="M921,976.3Q972.5,984.6 1024,976.3Q1021,972.2 1011,973.1L986,976H959L934,973.1Q924,972.2 921,976.3Z"/>
<circle class="c2" cx="972.6" cy="667.8" r="24.1"/>
<circle class="k" cx="972.6" cy="667.8" r="20.5"/>
<text class="ot" x="972.3" y="665.8" text-anchor="middle" font-size="15.3">Ø20</text>
<text class="ot" x="972.5" y="679.8" text-anchor="middle" font-size="15.6">mm</text>
<text class="ot" x="952.2" y="756.6" text-anchor="middle" transform="rotate(-90 952.2 756.6)" font-size="12">67,5mm</text>
<text class="ot" x="972.3" y="798" text-anchor="middle" font-size="12">68mm</text>
</g>
</svg>
<!--/DRAWING-->

<div class="t" style="left:697.5px;top:1045.6px;font-size:17.6px;color:#222;">b=Höhe/height</div>
<div class="t" style="left:680.6px;top:1068.4px;font-size:17.6px;color:#222;">Neigung/angle=15°</div>

<!--TABLE-->
<div class="tbg">
<div class="g" style="left:932.7px;top:1149.7px;width:76px;"></div>
<div class="g" style="left:1011.4px;top:1149.7px;width:208.8px;"></div>
<div class="g" style="left:1222.8px;top:1149.7px;width:209.2px;"></div>
<div class="l" style="left:932.7px;top:1169.35px;width:76px;"></div>
<div class="l" style="left:1011.4px;top:1169.35px;width:50.3px;"></div>
<div class="l" style="left:1064.24px;top:1169.35px;width:50.3px;"></div>
<div class="l" style="left:1117.08px;top:1169.35px;width:50.3px;"></div>
<div class="l" style="left:1169.92px;top:1169.35px;width:50.3px;"></div>
<div class="l" style="left:1222.76px;top:1169.35px;width:50.3px;"></div>
<div class="l" style="left:1275.6px;top:1169.35px;width:50.3px;"></div>
<div class="l" style="left:1328.44px;top:1169.35px;width:50.3px;"></div>
<div class="l" style="left:1381.28px;top:1169.35px;width:50.72px;"></div>
<div class="g" style="left:932.7px;top:1189px;width:76px;"></div>
<div class="g" style="left:1011.4px;top:1189px;width:50.3px;"></div>
<div class="g" style="left:1064.24px;top:1189px;width:50.3px;"></div>
<div class="g" style="left:1117.08px;top:1189px;width:50.3px;"></div>
<div class="g" style="left:1169.92px;top:1189px;width:50.3px;"></div>
<div class="g" style="left:1222.76px;top:1189px;width:50.3px;"></div>
<div class="g" style="left:1275.6px;top:1189px;width:50.3px;"></div>
<div class="g" style="left:1328.44px;top:1189px;width:50.3px;"></div>
<div class="g" style="left:1381.28px;top:1189px;width:50.72px;"></div>
<div class="l" style="left:932.7px;top:1208.65px;width:76px;"></div>
<div class="l" style="left:1011.4px;top:1208.65px;width:50.3px;"></div>
<div class="l" style="left:1064.24px;top:1208.65px;width:50.3px;"></div>
<div class="l" style="left:1117.08px;top:1208.65px;width:50.3px;"></div>
<div class="l" style="left:1169.92px;top:1208.65px;width:50.3px;"></div>
<div class="l" style="left:1222.76px;top:1208.65px;width:50.3px;"></div>
<div class="l" style="left:1275.6px;top:1208.65px;width:50.3px;"></div>
<div class="l" style="left:1328.44px;top:1208.65px;width:50.3px;"></div>
<div class="l" style="left:1381.28px;top:1208.65px;width:50.72px;"></div>
<div class="g" style="left:932.7px;top:1228.3px;width:76px;"></div>
<div class="g" style="left:1011.4px;top:1228.3px;width:50.3px;"></div>
<div class="g" style="left:1064.24px;top:1228.3px;width:50.3px;"></div>
<div class="g" style="left:1117.08px;top:1228.3px;width:50.3px;"></div>
<div class="g" style="left:1169.92px;top:1228.3px;width:50.3px;"></div>
<div class="g" style="left:1222.76px;top:1228.3px;width:50.3px;"></div>
<div class="g" style="left:1275.6px;top:1228.3px;width:50.3px;"></div>
<div class="g" style="left:1328.44px;top:1228.3px;width:50.3px;"></div>
<div class="g" style="left:1381.28px;top:1228.3px;width:50.72px;"></div>
</div>
<div class="tb">
<div class="h" style="left:932.7px;top:1149.7px;width:76px;">Ampere</div>
<div class="c" style="left:1011.4px;top:1149.7px;width:208.8px;"><b>16</b></div>
<div class="c" style="left:1222.8px;top:1149.7px;width:209.2px;"><b>32</b></div>
<div class="h" style="left:932.7px;top:1169.35px;width:76px;">Pole</div>
<div class="c" style="left:1011.4px;top:1169.35px;width:50.3px;"><b>3</b></div>
<div class="c" style="left:1064.24px;top:1169.35px;width:50.3px;"><b>4</b></div>
<div class="c" style="left:1117.08px;top:1169.35px;width:50.3px;"><b>5</b></div>
<div class="c" style="left:1169.92px;top:1169.35px;width:50.3px;"><b>7</b></div>
<div class="c" style="left:1222.76px;top:1169.35px;width:50.3px;"><b>3</b></div>
<div class="c" style="left:1275.6px;top:1169.35px;width:50.3px;"><b>4</b></div>
<div class="c" style="left:1328.44px;top:1169.35px;width:50.3px;"><b>5</b></div>
<div class="c" style="left:1381.28px;top:1169.35px;width:50.72px;"><b>7</b></div>
<div class="h" style="left:932.7px;top:1189px;width:76px;">a&nbsp; [mm]</div>
<div class="c" style="left:1011.4px;top:1189px;width:50.3px;">175</div>
<div class="c" style="left:1064.24px;top:1189px;width:50.3px;">176</div>
<div class="c" style="left:1117.08px;top:1189px;width:50.3px;">176</div>
<div class="c" style="left:1169.92px;top:1189px;width:50.3px;">176</div>
<div class="c" style="left:1222.76px;top:1189px;width:50.3px;">188</div>
<div class="c" style="left:1275.6px;top:1189px;width:50.3px;">188</div>
<div class="c" style="left:1328.44px;top:1189px;width:50.3px;">188</div>
<div class="c" style="left:1381.28px;top:1189px;width:50.72px;">188</div>
<div class="h" style="left:932.7px;top:1208.65px;width:76px;">b [mm]</div>
<div class="c" style="left:1011.4px;top:1208.65px;width:50.3px;"><b>127</b></div>
<div class="c" style="left:1064.24px;top:1208.65px;width:50.3px;"><b>130</b></div>
<div class="c" style="left:1117.08px;top:1208.65px;width:50.3px;"><b>133</b></div>
<div class="c" style="left:1169.92px;top:1208.65px;width:50.3px;"><b>133</b></div>
<div class="c" style="left:1222.76px;top:1208.65px;width:50.3px;"><b>136</b></div>
<div class="c" style="left:1275.6px;top:1208.65px;width:50.3px;"><b>136</b></div>
<div class="c" style="left:1328.44px;top:1208.65px;width:50.3px;"><b>141</b></div>
<div class="c" style="left:1381.28px;top:1208.65px;width:50.72px;"><b>141</b></div>
<div class="h" style="left:932.7px;top:1228.3px;width:76px;">M [mm]</div>
<div class="c" style="left:1011.4px;top:1228.3px;width:50.3px;">3x25</div>
<div class="c" style="left:1064.24px;top:1228.3px;width:50.3px;">3x25</div>
<div class="c" style="left:1117.08px;top:1228.3px;width:50.3px;">3x25</div>
<div class="c" style="left:1169.92px;top:1228.3px;width:50.3px;">3x25</div>
<div class="c" style="left:1222.76px;top:1228.3px;width:50.3px;">3x25</div>
<div class="c" style="left:1275.6px;top:1228.3px;width:50.3px;">3x25</div>
<div class="c" style="left:1328.44px;top:1228.3px;width:50.3px;">3x25</div>
<div class="c" style="left:1381.28px;top:1228.3px;width:50.72px;">3x25</div>
</div>
<!--/TABLE-->

<div class="t" style="left:38px;top:1236.6px;font-size:18.6px;color:#555;">©</div>
<div class="t" style="left:57px;top:1239.7px;font-size:14.16px;color:#555;">PC Electric GesmbH / Diesseits 145 / 4973 St. Martin im Innkreis / Austria</div>

<div class="side" style="left:1457.4px;top:1245.6px;">Erstellt / <span class="i">drawed:</span> <span class="b" style="color:#444;">MU/05.04.2018</span></div>
<div class="side" style="left:1457.4px;top:1013.6px;letter-spacing:.15px;">Maßstab / scale: <span class="b" style="color:#444;">1:2</span></div>

</body>
</html>
